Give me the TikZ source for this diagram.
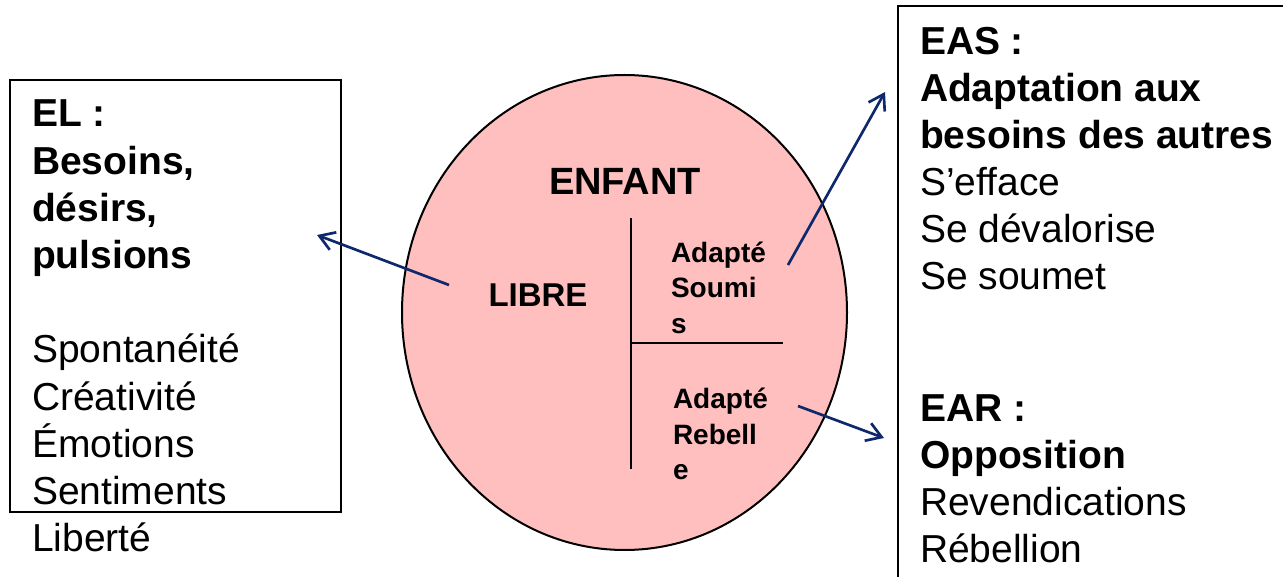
\documentclass[tikz,border=0pt]{standalone}
\usepackage{fontspec}
\setmainfont{Liberation Sans}
\usepackage{xcolor}
\usetikzlibrary{shapes.geometric, arrows.meta}
\definecolor{rose}{RGB}{255,191,191}
\definecolor{bleufonce}{RGB}{14,40,108}

\tikzset{
  cadre/.style={draw, line width=1.5pt, anchor=north west, inner sep=0pt},
  texte/.style={anchor=north west, inner sep=0pt, align=left},
  fleche/.style={draw=bleufonce, line width=2pt, -{Straight Barb[length=11pt,width=14pt]}},
}

\begin{document}
\begin{tikzpicture}[x=0.75pt, y=-0.75pt, line width=1.5pt]
\useasboundingbox (0,0) rectangle (1283,577);
\node[cadre, minimum width=248.25pt, minimum height=324pt] (cadreEL) at (9,79) {};
\node[cadre, minimum width=300pt, minimum height=450pt] (cadreEA) at (897,5) {};
\node[ellipse, draw, fill=rose, minimum width=333.75pt, minimum height=356.25pt, inner sep=0pt] (enfant) at (624.5,312.5) {};
\draw (631,218) -- (631,469);
\draw (631,343) -- (783,343);

\node[font=\bfseries\fontsize{28.5pt}{34pt}\selectfont] (titre) at (625,181) {ENFANT};
\node[font=\bfseries\fontsize{24.75pt}{30pt}\selectfont] (libre) at (538,295) {LIBRE};
\node[texte, font=\bfseries\fontsize{21pt}{26.6pt}\selectfont] (soumis) at (670,241) {Adapté\\Soumi\\s};
\node[texte, font=\bfseries\fontsize{21pt}{26.6pt}\selectfont] (rebelle) at (672,387) {Adapté\\Rebell\\e};

\node[texte, font=\fontsize{29.25pt}{35.4pt}\selectfont] (texteEL) at (31,99)
  {\textbf{EL :}\\\textbf{Besoins,}\\\textbf{désirs,}\\\textbf{pulsions}\\[35.4pt]Spontanéité\\Créativité\\Émotions\\Sentiments\\Liberté};
\node[texte, font=\fontsize{29.25pt}{35.25pt}\selectfont] (texteEAS) at (919,26)
  {\textbf{EAS :}\\\textbf{Adaptation aux}\\\textbf{besoins des autres}\\S’efface\\Se dévalorise\\Se soumet};
\node[texte, font=\fontsize{29.25pt}{35.25pt}\selectfont] (texteEAR) at (919,394)
  {\textbf{EAR :}\\\textbf{Opposition}\\Revendications\\Rébellion};

\coordinate (depLibre) at (449,285);
\coordinate (finEL) at (317,235);
\coordinate (depSoumis) at (788,265);
\coordinate (finEAS) at (885,92);
\coordinate (depRebelle) at (798,406);
\coordinate (finEAR) at (884,438);
\draw[fleche] (depLibre) -- (finEL);
\draw[fleche] (depSoumis) -- (finEAS);
\draw[fleche] (depRebelle) -- (finEAR);
\end{tikzpicture}
\end{document}
